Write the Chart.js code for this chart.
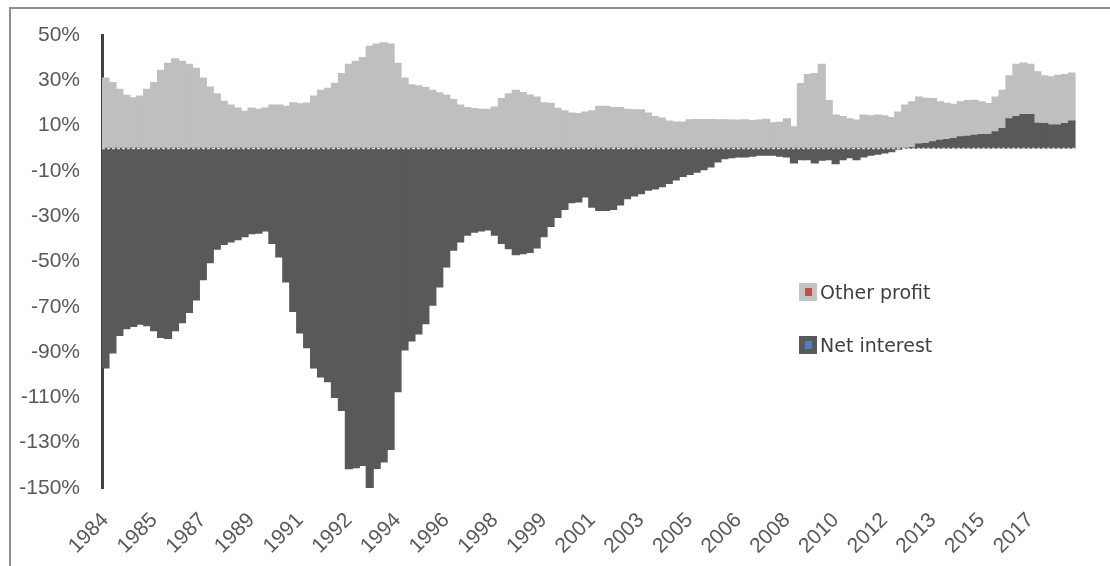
<!doctype html>
<html>
<head>
<script src="https://cdn.jsdelivr.net/npm/chart.js@4/dist/chart.umd.min.js"></script>
<style>
  body { margin: 0; background: #fff; }
  #wrap { position: relative; width: 1110px; height: 566px; overflow: hidden; }
  #frame { position: absolute; left: 9px; top: 7px; width: 1200px; height: 700px;
           border-left: 2px solid #8f8f8f; border-top: 2px solid #8f8f8f; }
  .leg { position: absolute; left: 799px; height: 18px; display: flex; align-items: center;
         font-family: "DejaVu Sans"; font-size: 19px; color: #404040; white-space: nowrap; }
  .mk { position: relative; width: 18px; height: 18px; margin-right: 3px; flex: none; }
  .mk i { position: absolute; left: 6px; top: 5px; width: 7px; height: 8px; }
</style>
</head>
<body>
<div id="wrap">
  <div id="frame"></div>
  <canvas id="c1" width="1110" height="566"></canvas>
  <div class="leg" style="top:283px"><span class="mk" style="background:#c4c4c4"><i style="background:#c0504d"></i></span>Other profit</div>
  <div class="leg" style="top:336px"><span class="mk" style="background:#595959"><i style="background:#4f81bd"></i></span>Net interest</div>
</div>
<script>
  // quarterly, 1984 Q1 .. 2018 Q4
  let quarters = [];
  for (let yr = 1984; yr <= 2018; yr++) {
    for (let q = 1; q <= 4; q++) quarters.push(yr + " Q" + q);
  }
  // year labels shown on every 7th quarter
  let tickYears = ["1984","1985","1987","1989","1991","1992","1994","1996","1998","1999",
                   "2001","2003","2005","2006","2008","2010","2012","2013","2015","2017"];

  let otherProfit = [
    31, 29, 26, 23.4, 22.3, 23, 26, 29, 34.4, 37.5,
    39.5, 38.4, 37, 35.3, 31, 27, 24, 20.7, 19, 17.7,
    16.3, 17.7, 17.2, 17.7, 19, 19, 18.5, 20, 19.6, 19.9,
    23, 25.6, 26.5, 28.7, 33, 37, 38.4, 40, 45, 46,
    46.5, 46, 37.5, 31, 28, 27.5, 26.8, 25.6, 24.5, 23.5,
    21.5, 19, 18, 17.5, 17.2, 17.2, 18.2, 21.9, 24, 25.6,
    24.6, 23.5, 22.6, 20, 19.8, 17.6, 16.5, 15.5, 15.3, 16,
    16.5, 18.5, 18.5, 18, 18, 17.2, 17, 17, 15.5, 14,
    13.3, 12, 11.6, 11.6, 12.5, 12.7, 12.7, 12.7, 12.5, 12.5,
    12.4, 12.4, 12.5, 12.2, 12.4, 12.8, 11.2, 11.4, 13, 9.4,
    28.5, 32.5, 33, 37, 21, 14.6, 14, 13, 12.4, 14.6,
    14.3, 14.6, 14.3, 13.5, 16, 19, 20.2, 20.8, 20, 19.1,
    17, 16, 15.1, 15.5, 15.7, 15.5, 14.5, 13.7, 15.4, 16.9,
    19, 23, 22.7, 22.1, 22.7, 21.1, 21.3, 22, 21.6, 21.2
  ];
  let netInterest = [
    -97, -90.4, -82.6, -79.6, -78.6, -77.7, -78.3, -80.5, -83.5, -84,
    -80.5, -77, -72.5, -67, -58, -50.5, -44.5, -42.5, -41.4, -40.4,
    -39, -37.7, -37.5, -36.5, -42, -48, -59, -72, -81.5, -88,
    -97, -101, -103, -110, -115.7, -141.5, -141, -140, -150, -141.4,
    -138.5, -133, -107.5, -89, -85, -82, -77.4, -69.3, -61.2, -52.4,
    -45, -41.4, -38.4, -37, -36.5, -36, -38.4, -42, -44.3, -47,
    -46.5, -46, -44, -39, -34.5, -30.5, -27, -24, -23.7, -21.5,
    -26, -27.4, -27.4, -27, -25, -22.2, -21, -20, -18.5, -18,
    -17, -15.5, -14, -12.4, -11.5, -10.5, -9.5, -8.2, -6, -4.6,
    -4.2, -3.8, -3.8, -3.5, -3.1, -3.1, -3.1, -3.5, -3.8, -6.5,
    -5, -5, -6.5, -5.3, -5, -6.8, -5, -4.2, -5, -3.8,
    -3.1, -2.6, -2, -1.5, -0.4, 0, 0.3, 1.8, 2, 2.8,
    3.5, 3.8, 4.3, 5, 5.3, 5.7, 6, 6, 7.2, 8.7,
    13, 14, 14.9, 14.9, 11, 10.9, 10.2, 10.2, 10.9, 12
  ];

  let yMin = -150, yMax = 50, yStep = 20;
  let tickColor = "#595959";

  // dashed horizontal axis at 0
  let zeroLine = {
    id: "zeroLine",
    afterDatasetsDraw(chart) {
      let ctx = chart.ctx, a = chart.chartArea;
      let y0 = Math.round(chart.scales.y.getPixelForValue(0)) + 0.5;
      ctx.save();
      ctx.strokeStyle = "#d9d9d9";
      ctx.lineWidth = 1.5;
      ctx.setLineDash([3, 2]);
      ctx.beginPath();
      ctx.moveTo(a.left, y0);
      ctx.lineTo(a.right, y0);
      ctx.stroke();
      ctx.restore();
    }
  };

  new Chart(document.getElementById("c1"), {
    type: "bar",
    data: {
      labels: quarters,
      datasets: [
        { label: "Net interest", data: netInterest, backgroundColor: "#595959",
          barPercentage: 1, categoryPercentage: 1, borderWidth: 0, inflateAmount: 0.6 },
        { label: "Other profit", data: otherProfit, backgroundColor: "#bfbfbf",
          barPercentage: 1, categoryPercentage: 1, borderWidth: 0, inflateAmount: 0.6 }
      ]
    },
    options: {
      responsive: false,
      animation: false,
      layout: { padding: { top: 35, right: 25, left: 0, bottom: 0 } },
      plugins: { legend: { display: false }, tooltip: { enabled: false } },
      scales: {
        x: {
          stacked: true,
          grid: { display: false, drawTicks: false },
          border: { display: false },
          ticks: {
            autoSkip: false, minRotation: 45, maxRotation: 45, padding: 20,
            color: tickColor, font: { family: "Liberation Sans", size: 21 },
            callback: (v, i) => i % 7 === 0 ? tickYears[i / 7] : ""
          },
          afterFit: s => { s.height = 78; }
        },
        y: {
          stacked: true, min: yMin, max: yMax, z: 1,
          grid: { display: false, drawTicks: false },
          border: { display: true, color: "#404040", width: 3 },
          ticks: {
            stepSize: yStep, padding: 22, color: tickColor,
            font: { family: "Liberation Sans", size: 21 },
            callback: v => v + "%"
          },
          afterFit: s => { s.width = 102; }
        }
      }
    },
    plugins: [zeroLine]
  });
</script>
</body>
</html>
